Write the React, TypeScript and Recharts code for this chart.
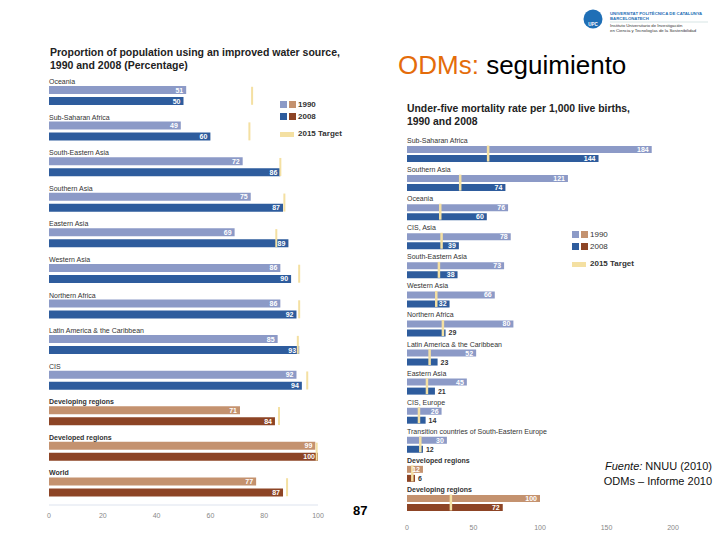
import { ComposedChart, Bar, Line, XAxis, YAxis, Cell, LabelList } from "recharts";

// water source chart (percentage)
const waterRegions = [
  "Oceania",
  "Sub-Saharan Africa",
  "South-Eastern Asia",
  "Southern Asia",
  "Eastern Asia",
  "Western Asia",
  "Northern Africa",
  "Latin America & the Caribbean",
  "CIS",
  "Developing regions",
  "Developed regions",
  "World",
];
const water1990 = [51, 49, 72, 75, 69, 86, 86, 85, 92, 71, 99, 77];
const water2008 = [50, 60, 86, 87, 89, 90, 92, 93, 94, 84, 100, 87];
const waterTarget = [75.5, 74.5, 86, 87.5, 84.5, 93, 93, 92.5, 96, 85.5, 99.5, 88.5];
const waterTicks = [0, 20, 40, 60, 80, 100];

// under-five mortality chart
const mortRegions = [
  "Sub-Saharan Africa",
  "Southern Asia",
  "Oceania",
  "CIS, Asia",
  "South-Eastern Asia",
  "Western Asia",
  "Northern Africa",
  "Latin America & the Caribbean",
  "Eastern Asia",
  "CIS, Europe",
  "Transition countries of South-Eastern Europe",
  "Developed regions",
  "Developing regions",
];
const mort1990 = [184, 121, 76, 78, 73, 66, 80, 52, 45, 26, 30, 12, 100];
const mort2008 = [144, 74, 60, 39, 38, 32, 29, 23, 21, 14, 12, 6, 72];
const mortTarget = [61, 40, 25, 26, 24, 22, 27, 17, 15, 9, 10, 4, 33];
const mortTicks = [0, 50, 100, 150, 200];

const C1990 = "#8c9ac7";
const C2008 = "#2e5c9d";
const A1990 = "#c4926f";
const A2008 = "#8d4425";
const TARGET = "#f4e0a2";
const FONT = "'Liberation Sans', Arial, sans-serif";

const waterRows = waterRegions.map((name, i) => ({
  name,
  v1990: water1990[i],
  v2008: water2008[i],
  target: waterTarget[i],
  agg: i >= 9,
}));

const mortRows = mortRegions.map((name, i) => ({
  name,
  v1990: mort1990[i],
  v2008: mort2008[i],
  target: mortTarget[i],
  agg: i >= 11,
}));

const nameLabel = (rows: any[], fontSize: number, lift: number) => (p: any) => (
  <text
    x={p.x}
    y={p.y - lift}
    fontSize={fontSize}
    fill="#333"
    fontWeight={rows[p.index]?.agg ? "bold" : "normal"}
  >
    {p.value}
  </text>
);

const valueLabel = (fontSize: number, outsideBelow: number) => (p: any) => {
  const out = p.value < outsideBelow;
  return (
    <text
      x={out ? p.x + p.width + 3 : p.x + p.width - 3}
      y={p.y + p.height / 2}
      dy="0.36em"
      textAnchor={out ? "start" : "end"}
      fontSize={fontSize}
      fontWeight="bold"
      fill={out ? "#333" : "#fff"}
    >
      {p.value}
    </text>
  );
};

const targetMark = (h: number, w: number) => (p: any) => (
  <rect key={`t${p.index}`} x={p.cx - w / 2} y={p.cy - h / 2} width={w} height={h} fill={TARGET} />
);

function Legend({ x, y, bold }: { x: number; y: number; bold: boolean }) {
  const sq = { position: "absolute" as const, width: 7, height: 7 };
  const txt = {
    position: "absolute" as const,
    left: 18,
    fontSize: 8,
    fontWeight: bold ? "bold" : "normal",
    color: "#333",
    lineHeight: "8px",
    whiteSpace: "nowrap" as const,
  };
  return (
    <div style={{ position: "absolute", left: x, top: y }}>
      <div style={{ ...sq, left: 0, top: 0, background: C1990 }} />
      <div style={{ ...sq, left: 9, top: 0, background: A1990 }} />
      <div style={{ ...txt, top: 0 }}>1990</div>
      <div style={{ ...sq, left: 0, top: 12, background: C2008 }} />
      <div style={{ ...sq, left: 9, top: 12, background: A2008 }} />
      <div style={{ ...txt, top: 12 }}>2008</div>
      <div style={{ position: "absolute", left: 0, top: 31, width: 14, height: 5, background: TARGET }} />
      <div style={{ ...txt, top: 29, fontWeight: "bold" }}>2015 Target</div>
    </div>
  );
}

export default function App() {
  return (
    <div
      style={{
        position: "absolute",
        left: 0,
        top: 0,
        width: 720,
        height: 540,
        background: "#fff",
        fontFamily: FONT,
        overflow: "hidden",
      }}
    >
      {/* logo */}
      <svg style={{ position: "absolute", left: 580, top: 0 }} width={140} height={40}>
        <circle cx={13} cy={19} r={9.5} fill="#1f6fb6" />
        <text x={13} y={26} fontSize={4.5} fill="#fff" textAnchor="middle" fontWeight="bold">UPC</text>
        <text x={30} y={15} fontSize={4.3} fill="#1f6fb6" fontWeight="bold">UNIVERSITAT POLITÈCNICA DE CATALUNYA</text>
        <text x={30} y={20} fontSize={4.3} fill="#1f6fb6" fontWeight="bold">BARCELONATECH</text>
        <line x1={30} x2={128} y1={22} y2={22} stroke="#9bb" strokeWidth={0.4} />
        <text x={30} y={27} fontSize={4.3} fill="#333">Instituto Universitario de Investigación</text>
        <text x={30} y={32} fontSize={4.3} fill="#333">en Ciencia y Tecnologías de la Sostenibilidad</text>
      </svg>

      <div style={{ position: "absolute", left: 398, top: 50, fontSize: 26, lineHeight: "30px", whiteSpace: "nowrap" }}>
        <span style={{ color: "#e46c0a" }}>ODMs:</span> <span style={{ color: "#000" }}>seguimiento</span>
      </div>

      <div
        style={{
          position: "absolute",
          left: 50,
          top: 46,
          fontSize: 10.5,
          fontWeight: "bold",
          lineHeight: "13px",
          color: "#222",
          whiteSpace: "nowrap",
        }}
      >
        Proportion of population using an improved water source,
        <br />
        1990 and 2008 (Percentage)
      </div>

      <div
        style={{
          position: "absolute",
          left: 407,
          top: 102,
          fontSize: 10.4,
          fontWeight: "bold",
          lineHeight: "13px",
          color: "#222",
          whiteSpace: "nowrap",
        }}
      >
        Under-five mortality rate per 1,000 live births,
        <br />
        1990 and 2008
      </div>

      <div style={{ position: "absolute", left: 0, top: 0 }}>
        <ComposedChart
          width={360}
          height={540}
          layout="vertical"
          data={waterRows}
          margin={{ top: 78, right: 42, bottom: 25, left: 49 }}
          barSize={8}
          barGap={3}
        >
          <XAxis
            type="number"
            domain={[0, 100]}
            ticks={waterTicks}
            height={10}
            tickLine={false}
            axisLine={{ stroke: "#dde3ee" }}
            tick={{ fontSize: 7, fill: "#888" }}
          />
          <YAxis type="category" dataKey="name" hide width={0} />
          <Bar dataKey="v1990" isAnimationActive={false}>
            {waterRows.map((r, i) => (
              <Cell key={i} fill={r.agg ? A1990 : C1990} />
            ))}
            <LabelList dataKey="name" content={nameLabel(waterRows, 7, 2)} />
            <LabelList dataKey="v1990" content={valueLabel(7, 0)} />
          </Bar>
          <Bar dataKey="v2008" isAnimationActive={false}>
            {waterRows.map((r, i) => (
              <Cell key={i} fill={r.agg ? A2008 : C2008} />
            ))}
            <LabelList dataKey="v2008" content={valueLabel(7, 0)} />
          </Bar>
          <Line
            dataKey="target"
            stroke="none"
            isAnimationActive={false}
            activeDot={false}
            dot={targetMark(18, 2)}
          />
        </ComposedChart>
      </div>

      <div style={{ position: "absolute", left: 360, top: 0 }}>
        <ComposedChart
          width={360}
          height={540}
          layout="vertical"
          data={mortRows}
          margin={{ top: 139, right: 47, bottom: 13, left: 47 }}
          barSize={7}
          barGap={2}
        >
          <XAxis
            type="number"
            domain={[0, 200]}
            ticks={mortTicks}
            height={10}
            tickLine={false}
            axisLine={false}
            tick={{ fontSize: 7, fill: "#888" }}
          />
          <YAxis type="category" dataKey="name" hide width={0} />
          <Bar dataKey="v1990" isAnimationActive={false}>
            {mortRows.map((r, i) => (
              <Cell key={i} fill={r.agg ? A1990 : C1990} />
            ))}
            <LabelList dataKey="name" content={nameLabel(mortRows, 7, 3)} />
            <LabelList dataKey="v1990" content={valueLabel(7, 0)} />
          </Bar>
          <Bar dataKey="v2008" isAnimationActive={false}>
            {mortRows.map((r, i) => (
              <Cell key={i} fill={r.agg ? A2008 : C2008} />
            ))}
            <LabelList dataKey="v2008" content={valueLabel(7, 30)} />
          </Bar>
          <Line
            dataKey="target"
            stroke="none"
            isAnimationActive={false}
            activeDot={false}
            dot={targetMark(16, 2.5)}
          />
        </ComposedChart>
      </div>

      <Legend x={280} y={101} bold={true} />
      <Legend x={572} y={231} bold={false} />

      <svg style={{ position: "absolute", left: 340, top: 500 }} width={40} height={24}>
        <text x={13} y={15} fontSize={13} fontWeight="bold" fill="#000">87</text>
      </svg>

      <div
        style={{
          position: "absolute",
          right: 8,
          top: 459,
          fontSize: 11,
          lineHeight: "15px",
          textAlign: "right",
          color: "#111",
          whiteSpace: "nowrap",
        }}
      >
        <i>Fuente:</i> NNUU (2010)
        <br />
        ODMs – Informe 2010
      </div>
    </div>
  );
}
